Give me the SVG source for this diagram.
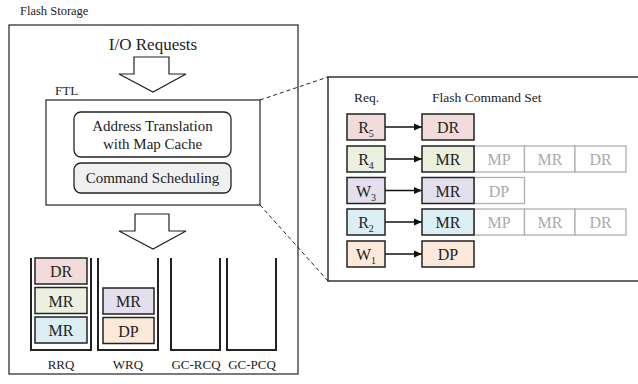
<svg xmlns="http://www.w3.org/2000/svg" width="638" height="384" viewBox="0 0 638 384" font-family="'Liberation Serif','DejaVu Serif',serif">
<defs>
<style>
text{font-family:'Liberation Serif','DejaVu Serif',serif;fill:#222}
.frame{fill:#fff;stroke:#333;stroke-width:1.3}
.box{stroke:#222;stroke-width:1.5}
.gbox{fill:#fff;stroke:#b0b0b0;stroke-width:1.3}
.gt{fill:#aaa;font-size:16px;text-anchor:middle}
.bt{font-size:16px;text-anchor:middle}
.q{fill:none;stroke:#222;stroke-width:2}
.dash{fill:none;stroke:#222;stroke-width:1;stroke-dasharray:4,3}
.big{fill:#fff;stroke:#222;stroke-width:1.2}
.pink{fill:#f2dcdb}.green{fill:#ebf1de}.purple{fill:#e4dfec}.blue{fill:#dbeef4}.orange{fill:#fde9d9}
.conn{stroke:#111;stroke-width:1.3;fill:none}
</style>
<marker id="ah" viewBox="0 0 8 8" refX="8" refY="4" markerWidth="8" markerHeight="8" markerUnits="userSpaceOnUse" orient="auto"><path d="M0,0.5 L8,4 L0,7.5 z" fill="#111"/></marker>
</defs>
<rect width="638" height="384" fill="#fff"/>
<text x="20" y="15" font-size="12.5">Flash Storage</text>
<g id="flash-storage"><rect class="frame" x="9" y="25" width="289" height="349"/></g>
<text x="153" y="50" font-size="17" text-anchor="middle">I/O Requests</text>
<g id="arrow-io"><path class="big" d="M134,57 H169 V74 H186 L153,92 L119,74 H134 Z"/></g>
<text x="55" y="95" font-size="13">FTL</text>
<g id="ftl"><rect class="frame" x="46" y="100" width="214" height="105"/></g>
<g id="addr-trans"><rect x="74" y="112" width="157" height="45" rx="7" fill="#fff" stroke="#222" stroke-width="1.3"/>
<text x="152.5" y="131" font-size="15" text-anchor="middle">Address Translation</text>
<text x="152.5" y="149" font-size="15" text-anchor="middle">with Map Cache</text></g>
<g id="cmd-sched"><rect x="74" y="163" width="157" height="30" rx="7" fill="#f0f0f0" stroke="#222" stroke-width="1.3"/>
<text x="152.5" y="183" font-size="15" text-anchor="middle">Command Scheduling</text></g>
<g id="arrow-down"><path class="big" d="M135,214 H169 V231 H186 L153,249 L119,231 H135 Z"/></g>
<g id="rrq"><path class="q" d="M31,258 V350 H91 V258"/>
<rect class="box pink" x="35" y="258" width="52" height="26"/><text class="bt" x="61" y="277">DR</text>
<rect class="box green" x="35" y="287.5" width="52" height="26"/><text class="bt" x="61" y="306.5">MR</text>
<rect class="box blue" x="35" y="317" width="52" height="26"/><text class="bt" x="61" y="336">MR</text>
<text x="61" y="369" font-size="13" text-anchor="middle">RRQ</text></g>
<g id="wrq"><path class="q" d="M98,258 V350 H158 V258"/>
<rect class="box purple" x="103" y="288" width="51" height="26"/><text class="bt" x="128.5" y="307">MR</text>
<rect class="box orange" x="103" y="317.5" width="51" height="26"/><text class="bt" x="128.5" y="336.5">DP</text>
<text x="128" y="369" font-size="13" text-anchor="middle">WRQ</text></g>
<g id="gc-rcq"><path class="q" d="M171,258 V350 H220 V258"/>
<text x="196" y="369" font-size="13" text-anchor="middle">GC-RCQ</text></g>
<g id="gc-pcq"><path class="q" d="M227,258 V350 H276 V258"/>
<text x="252" y="369" font-size="13" text-anchor="middle">GC-PCQ</text></g>
<g id="detail-panel"><rect x="328" y="77" width="330" height="204" fill="#fff" stroke="#333" stroke-width="1.5"/>
<text x="354" y="102" font-size="13.5">Req.</text>
<text x="432" y="102" font-size="13.5">Flash Command Set</text></g>
<g id="connectors">
<path class="dash" d="M260,100 L328,77"/>
<path class="dash" d="M260,205 L328,281"/>
<path class="conn" marker-end="url(#ah)" d="M385,127 H422"/>
<path class="conn" marker-end="url(#ah)" d="M385,159 H422"/>
<path class="conn" marker-end="url(#ah)" d="M385,190.5 H422"/>
<path class="conn" marker-end="url(#ah)" d="M385,222 H422"/>
<path class="conn" marker-end="url(#ah)" d="M385,254 H422"/>
</g>
<g id="row-r5">
<rect class="box pink" x="347" y="114" width="38" height="26"/><text class="bt" x="366" y="133">R<tspan font-size="10" dy="4">5</tspan></text>
<rect class="box pink" x="422" y="114" width="52" height="26"/><text class="bt" x="448" y="133">DR</text>
</g>
<g id="row-r4">
<rect class="box green" x="347" y="146" width="38" height="26"/><text class="bt" x="366" y="165">R<tspan font-size="10" dy="4">4</tspan></text>
<rect class="gbox" x="474" y="146" width="50.5" height="26"/><text class="gt" x="499" y="165">MP</text>
<rect class="gbox" x="524.5" y="146" width="50.5" height="26"/><text class="gt" x="550" y="165">MR</text>
<rect class="gbox" x="575" y="146" width="51" height="26"/><text class="gt" x="600.5" y="165">DR</text>
<rect class="box green" x="422" y="146" width="52" height="26"/><text class="bt" x="448" y="165">MR</text>
</g>
<g id="row-w3">
<rect class="box purple" x="347" y="177.5" width="38" height="26"/><text class="bt" x="366" y="196.5">W<tspan font-size="10" dy="4">3</tspan></text>
<rect class="gbox" x="474" y="177.5" width="50.5" height="26"/><text class="gt" x="499" y="196.5">DP</text>
<rect class="box purple" x="422" y="177.5" width="52" height="26"/><text class="bt" x="448" y="196.5">MR</text>
</g>
<g id="row-r2">
<rect class="box blue" x="347" y="209" width="38" height="26"/><text class="bt" x="366" y="228">R<tspan font-size="10" dy="4">2</tspan></text>
<rect class="gbox" x="474" y="209" width="50.5" height="26"/><text class="gt" x="499" y="228">MP</text>
<rect class="gbox" x="524.5" y="209" width="50.5" height="26"/><text class="gt" x="550" y="228">MR</text>
<rect class="gbox" x="575" y="209" width="51" height="26"/><text class="gt" x="600.5" y="228">DR</text>
<rect class="box blue" x="422" y="209" width="52" height="26"/><text class="bt" x="448" y="228">MR</text>
</g>
<g id="row-w1">
<rect class="box orange" x="347" y="241" width="38" height="26"/><text class="bt" x="366" y="260">W<tspan font-size="10" dy="4">1</tspan></text>
<rect class="box orange" x="422" y="241" width="52" height="26"/><text class="bt" x="448" y="260">DP</text>
</g>
</svg>
